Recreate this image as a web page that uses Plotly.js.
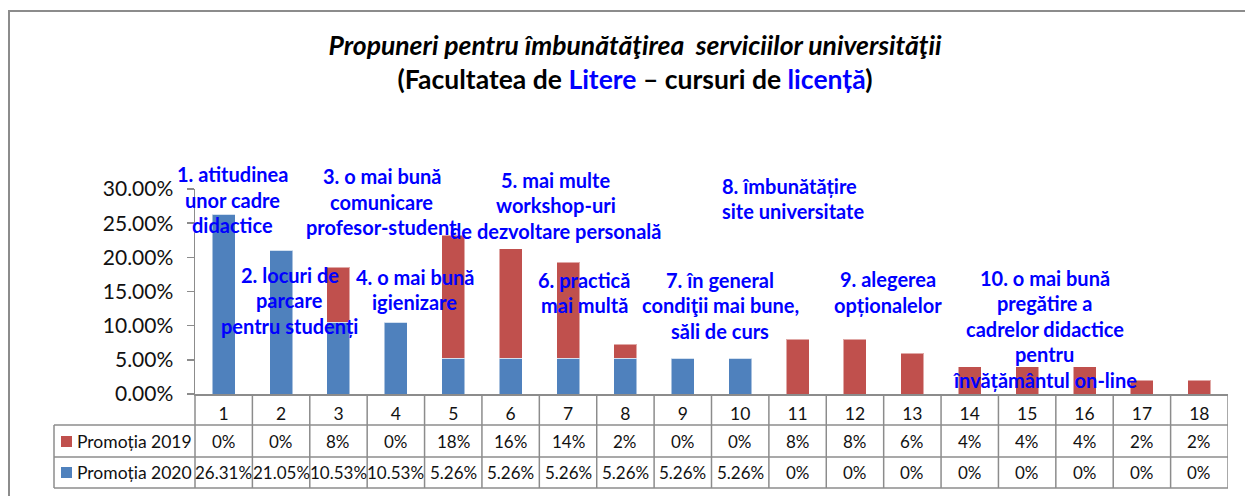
<!DOCTYPE html>
<html>
<head>
<meta charset="utf-8">
<script src="https://cdn.plot.ly/plotly-3.0.1.min.js"></script>
<style>
  html, body { margin: 0; padding: 0; background: #fff; }
  #chart { width: 1245px; height: 496px; }
</style>
</head>
<body>
<div id="chart"></div>
<script>
// ---- data ----
const categories = [1, 2, 3, 4, 5, 6, 7, 8, 9, 10, 11, 12, 13, 14, 15, 16, 17, 18];
const promo2019 = [0, 0, 8, 0, 18, 16, 14, 2, 0, 0, 8, 8, 6, 4, 4, 4, 2, 2];
const promo2020 = [26.31, 21.05, 10.53, 10.53, 5.26, 5.26, 5.26, 5.26, 5.26, 5.26, 0, 0, 0, 0, 0, 0, 0, 0];
const seriesNames = ['Promoția 2019', 'Promoția 2020'];
const yTicks = [0, 5, 10, 15, 20, 25, 30];

const proposalTexts = [
  '1. atitudinea<br>unor cadre<br>didactice',
  '2. locuri de<br>parcare<br>pentru studenți',
  '3. o mai bună<br>comunicare<br>profesor-student',
  '4. o mai bună<br>igienizare',
  '5. mai multe<br>workshop-uri<br>de dezvoltare personală',
  '6. practică<br>mai multă',
  '7. în general<br>condiţii mai bune,<br>săli de curs',
  '8. îmbunătățire<br>site universitate',
  '9. alegerea<br>opționalelor',
  '10. o mai bună<br>pregătire a<br>cadrelor didactice<br>pentru<br>învățământul on-line'
];
// label anchor positions (data units) and alignment
const proposalX = [1.145, 2.155, 3.758, 4.33, 6.79, 7.28, 9.65, 9.65, 12.57, 15.31];
const proposalY = [28.4, 13.75, 28.1, 15.3, 27.6, 14.85, 13.0, 28.6, 14.9, 9.58];
const proposalAnchor = ['center','center','center','center','center','center','center','left','center','center'];

// ---- styles ----
const BLUE = '#4F81BD';
const RED = '#C0504D';
const GRID = '#8c8c8c';
const FONT = 'Lato, "Open Sans", sans-serif';
const TXT = '#111';

// pixel-to-paper helpers (plot area: x 195..1228, y 189..394)
const PL = 195, PR = 1228, PT = 189, PB = 394;
const px = v => (v - PL) / (PR - PL);
const py = v => (PB - v) / (PB - PT);

const fmt2019 = v => v + '%';
const fmt2020 = v => v === 0 ? '0%' : v.toFixed(2) + '%';

const traces = [
  { type: 'bar', name: seriesNames[1], x: categories, y: promo2020,
    marker: { color: BLUE, line: { color: 'rgba(255,255,255,0.5)', width: 1 } }, width: 0.4,
    hoverinfo: 'skip' },
  { type: 'bar', name: seriesNames[0], x: categories, y: promo2019,
    marker: { color: RED, line: { color: 'rgba(255,255,255,0.5)', width: 1 } }, width: 0.4,
    hoverinfo: 'skip' }
];

const shapes = [];
const annotations = [];

// outer frame
shapes.push({ type: 'rect', xref: 'paper', yref: 'paper', x0: px(9), x1: px(1260), y0: py(520), y1: py(11),
  line: { color: GRID, width: 2 }, layer: 'below' });

// table grid
const rowY = [py(425), py(457), py(488)];
categories.forEach((c, i) => {
  shapes.push({ type: 'line', xref: 'x', yref: 'paper', x0: c + 0.5, x1: c + 0.5, y0: 0, y1: py(488),
    line: { color: GRID, width: 1.5 } });
});
shapes.push({ type: 'line', xref: 'paper', yref: 'paper', x0: 0, x1: 0, y0: 0, y1: py(488),
  line: { color: GRID, width: 1.5 } });
rowY.forEach(yy => shapes.push({ type: 'line', xref: 'paper', yref: 'paper', x0: px(54), x1: 1, y0: yy, y1: yy,
  line: { color: GRID, width: 1.5 } }));
shapes.push({ type: 'line', xref: 'paper', yref: 'paper', x0: px(54), x1: px(54), y0: py(425), y1: py(488),
  line: { color: GRID, width: 1.5 } });

// legend keys in table
[[RED, 436, seriesNames[0], 441], [BLUE, 467, seriesNames[1], 472]].forEach(([col, top, name, cy]) => {
  shapes.push({ type: 'rect', xref: 'paper', yref: 'paper', x0: px(61), x1: px(72), y0: py(top + 11), y1: py(top),
    fillcolor: col, line: { width: 0 } });
  annotations.push({ xref: 'paper', yref: 'paper', x: px(75), y: py(cy), xanchor: 'left', yanchor: 'middle',
    text: name, showarrow: false, font: { family: FONT, size: 17.5, color: TXT } });
});

// table values
categories.forEach((c, i) => {
  annotations.push({ xref: 'x', yref: 'paper', x: c, y: py(441), yanchor: 'middle', xanchor: 'center',
    text: fmt2019(promo2019[i]), showarrow: false, font: { family: FONT, size: 17, color: TXT } });
  annotations.push({ xref: 'x', yref: 'paper', x: c, y: py(472), yanchor: 'middle', xanchor: 'center',
    text: fmt2020(promo2020[i]), showarrow: false, font: { family: FONT, size: 17, color: TXT } });
});

// proposal labels (one annotation per line, for line spacing)
const LINE_H = 25.5;
proposalTexts.forEach((t, k) => {
  const lines = t.split('<br>');
  const n = lines.length;
  lines.forEach((ln, j) => {
    annotations.push({ xref: 'x', yref: 'y', x: proposalX[k], y: proposalY[k],
      yshift: -(j - (n - 1) / 2) * LINE_H, xanchor: proposalAnchor[k], yanchor: 'middle',
      text: '<b>' + ln + '</b>', showarrow: false, font: { family: FONT, size: 20, color: '#0000FF' } });
  });
});

const layout = {
  width: 1245, height: 496,
  margin: { l: PL, r: 1245 - PR, t: PT, b: 496 - PB, pad: 0 },
  paper_bgcolor: '#fff', plot_bgcolor: 'rgba(0,0,0,0)',
  showlegend: false,
  barmode: 'stack',
  title: {
    text: '<b><i>Propuneri pentru îmbunătăţirea  serviciilor universităţii</i></b><br>' +
          '<b>(Facultatea de <span style="color:#0000FF">Litere</span> – cursuri de <span style="color:#0000FF">licență</span>)</b>',
    x: 635 / 1245, xanchor: 'center', xref: 'container',
    y: 1 - 55 / 496, yanchor: 'top', yref: 'container',
    font: { family: FONT, size: 26.5, color: '#000' }
  },
  xaxis: {
    range: [0.5, 18.5], tickvals: categories, ticktext: categories.map(String),
    showgrid: false, zeroline: false, showline: true, linecolor: GRID, linewidth: 1.5,
    ticks: '', tickfont: { family: FONT, size: 17.5, color: TXT }, ticklabelstandoff: 3,
    fixedrange: true
  },
  yaxis: {
    range: [0, 30], tickvals: yTicks, ticktext: yTicks.map(v => v.toFixed(2) + '%'),
    showgrid: false, zeroline: false, showline: true, linecolor: GRID, linewidth: 1.5,
    ticks: 'outside', ticklen: 7, tickcolor: GRID, tickwidth: 1.5,
    tickfont: { family: FONT, size: 21, color: TXT }, ticklabelstandoff: 9,
    fixedrange: true
  },
  shapes: shapes,
  annotations: annotations
};

Plotly.newPlot('chart', traces, layout, { displayModeBar: false, staticPlot: true });
</script>
</body>
</html>
